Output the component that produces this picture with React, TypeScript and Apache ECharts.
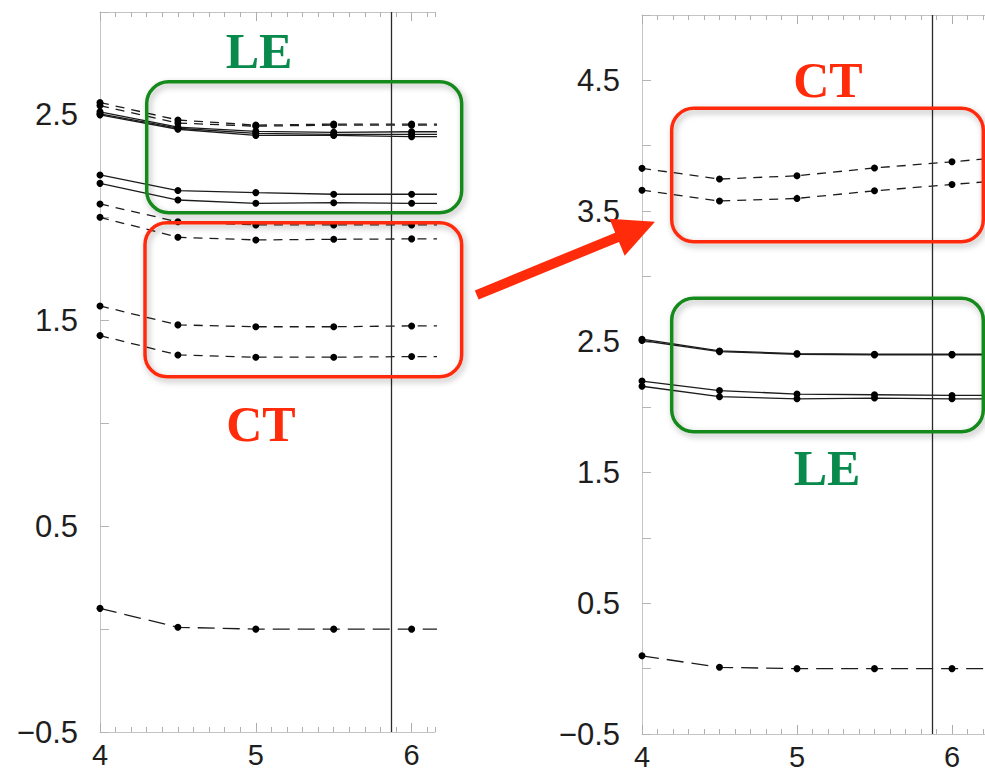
import React, { useEffect, useRef } from "react";
import * as echarts from "echarts";

// abscissa shared by every curve (last point sits past the visible range so lines run to the frame)
const xs = [4, 4.5, 5, 5.5, 6, 6.5];

// left panel
const leftLESolid = [
  [2.515, 2.44, 2.42, 2.415, 2.418, 2.418],
  [2.505, 2.435, 2.41, 2.405, 2.405, 2.405],
  [2.5, 2.43, 2.4, 2.4, 2.394, 2.394],
  [2.208, 2.132, 2.122, 2.114, 2.114, 2.114],
  [2.167, 2.086, 2.07, 2.073, 2.07, 2.07],
];
const leftLEDashed = [
  [2.56, 2.475, 2.45, 2.455, 2.455, 2.455],
  [2.545, 2.46, 2.445, 2.45, 2.45, 2.45],
];
const leftCT = [
  [2.067, 1.98, 1.965, 1.965, 1.965, 1.965],
  [2.002, 1.905, 1.892, 1.895, 1.897, 1.897],
  [1.571, 1.479, 1.47, 1.47, 1.474, 1.474],
  [1.427, 1.333, 1.322, 1.322, 1.325, 1.325],
];
const leftBase = [0.101, 0.009, 0.0, 0.0, 0.0, 0.0];

// right panel
const rightCT = [
  [3.827, 3.745, 3.77, 3.83, 3.877, 3.93],
  [3.66, 3.577, 3.597, 3.655, 3.704, 3.75],
];
const rightLE = [
  [2.52, 2.43, 2.41, 2.405, 2.405, 2.405],
  [2.51, 2.425, 2.405, 2.4, 2.4, 2.4],
  [2.2, 2.127, 2.1, 2.095, 2.09, 2.09],
  [2.16, 2.08, 2.064, 2.07, 2.064, 2.064],
];
const rightBase = [0.098, 0.01, 0.0, 0.0, 0.0, 0.0];

const cutoff = 5.865;
const xMin = 4;
const leftXMax = 6.15;
const rightXMax = 6.25;
const leftYRange = [-0.5, 3.0];
const rightYRange = [-0.5, 5.0];
const xLabels = ["4", "5", "6"];

const GREEN_BOX = "#14891a";
const GREEN_TEXT = "#078a4c";
const RED = "#ff2b0a";

const fmtY = (v: number) => {
  const frac = v - Math.floor(v);
  if (Math.abs(frac - 0.5) > 1e-6) return "";
  return v < 0 ? "\u2212" + Math.abs(v).toFixed(1) : v.toFixed(1);
};

export default function App() {
  const ref = useRef<HTMLDivElement>(null);

  useEffect(() => {
    if (!ref.current) return;
    const chart = echarts.init(ref.current, undefined, { renderer: "svg" });

    const grids = [
      { left: 100, top: 12, width: 335, height: 720 },
      { left: 642, top: 15, width: 155 * (rightXMax - xMin), height: 719 },
    ];
    const xMaxes = [leftXMax, rightXMax];

    const axisLineStyle = { onZero: false, lineStyle: { color: "#c4c4c4", width: 1 } };
    const labelFont = {
      fontFamily: "Liberation Sans, Arial, sans-serif",
      fontSize: 31,
      color: "#1e1e1e",
    };
    const xAxes: any[] = [];
    grids.forEach((_, g) => {
      // bottom axis with labels and unit ticks
      xAxes.push({
        type: "value",
        gridIndex: g,
        position: "bottom",
        min: xMin,
        max: xMaxes[g],
        interval: 1,
        axisLine: { show: true, ...axisLineStyle },
        axisTick: { show: true, inside: true, length: 9, customValues: [4, 5, 6], lineStyle: { color: "#aaa" } },
        axisLabel: {
          show: true,
          margin: 8,
          ...labelFont,
          fontSize: 29,
          lineHeight: 30,
          customValues: [4, 5, 6],
          formatter: (v: number) => (Number.isInteger(v) ? xLabels[v - 4] ?? String(v) : ""),
        },
        splitLine: { show: false },
      });
      // bottom fine ticks
      xAxes.push({
        type: "value",
        gridIndex: g,
        position: "bottom",
        min: xMin,
        max: xMaxes[g],
        interval: 0.1,
        axisLine: { show: false, onZero: false },
        axisTick: { show: true, inside: true, length: 5, lineStyle: { color: "#b0b0b0" } },
        axisLabel: { show: false },
        splitLine: { show: false },
      });
      // top frame with ticks
      xAxes.push({
        type: "value",
        gridIndex: g,
        position: "top",
        min: xMin,
        max: xMaxes[g],
        interval: 1,
        axisLine: { show: true, ...axisLineStyle },
        axisTick: { show: true, inside: true, length: 9, customValues: [4, 5, 6], lineStyle: { color: "#aaa" } },
        axisLabel: { show: false },
        splitLine: { show: false },
      });
      xAxes.push({
        type: "value",
        gridIndex: g,
        position: "top",
        min: xMin,
        max: xMaxes[g],
        interval: 0.1,
        axisLine: { show: false, onZero: false },
        axisTick: { show: true, inside: true, length: 5, lineStyle: { color: "#b0b0b0" } },
        axisLabel: { show: false },
        splitLine: { show: false },
      });
    });

    const yRanges = [leftYRange, rightYRange];
    const yAxes = grids.map((_, g) => ({
      type: "value",
      gridIndex: g,
      min: yRanges[g][0],
      max: yRanges[g][1],
      interval: 0.5,
      axisLine: { show: true, ...axisLineStyle },
      axisTick: { show: true, inside: true, length: 9, lineStyle: { color: "#b5b5b5" } },
      axisLabel: {
        show: true,
        margin: 22,
        ...labelFont,
        formatter: fmtY,
      },
      splitLine: { show: false },
    }));

    const makeLine = (
      name: string,
      vals: number[],
      g: number,
      dash: "solid" | number[],
      withCutoff = false
    ) => ({
      name,
      type: "line",
      xAxisIndex: g * 4,
      yAxisIndex: g,
      data: xs.map((x, i) => [x, vals[i]]),
      symbol: "circle",
      symbolSize: 7,
      itemStyle: { color: "#000" },
      lineStyle: { color: "#1c1c1c", width: 1.3, type: dash },
      clip: true,
      silent: true,
      z: 3,
      markLine: withCutoff
        ? {
            silent: true,
            symbol: ["none", "none"],
            label: { show: false },
            lineStyle: { color: "#2a2a2a", width: 1.3, type: "solid" },
            data: [{ xAxis: cutoff }],
          }
        : undefined,
    });

    const shortDash = [9, 7];
    const longDash = [17, 8];
    const series: any[] = [];
    series.push(makeLine("LE-base", leftBase, 0, longDash, true));
    leftLESolid.forEach((v, i) => series.push(makeLine("LE-" + i, v, 0, "solid")));
    leftLEDashed.forEach((v, i) => series.push(makeLine("LEd-" + i, v, 0, shortDash)));
    leftCT.forEach((v, i) => series.push(makeLine("CT-" + i, v, 0, shortDash)));
    series.push(makeLine("R-base", rightBase, 1, longDash, true));
    rightCT.forEach((v, i) => series.push(makeLine("R-CT-" + i, v, 1, shortDash)));
    rightLE.forEach((v, i) => series.push(makeLine("R-LE-" + i, v, 1, "solid")));

    // annotation boxes, captions and arrow
    const box = (x: number, y: number, w: number, h: number, color: string) => ({
      type: "rect",
      shape: { x, y, width: w, height: h, r: 22 },
      style: {
        fill: "transparent",
        stroke: color,
        lineWidth: 3.5,
        shadowBlur: 6,
        shadowOffsetX: 2,
        shadowOffsetY: 3,
        shadowColor: "rgba(0,0,0,0.3)",
      },
      z: 10,
      silent: true,
    });
    const caption = (text: string, x: number, y: number, color: string) => ({
      type: "text",
      x,
      y,
      style: {
        text,
        fill: color,
        font: "bold 50px 'Liberation Serif', 'Times New Roman', serif",
        align: "center",
        verticalAlign: "middle",
      },
      z: 10,
      silent: true,
    });

    const tail = [476.7, 295];
    const tip = [655, 221.7];
    const dx = tip[0] - tail[0];
    const dy = tip[1] - tail[1];
    const len = Math.hypot(dx, dy);
    const ux = dx / len;
    const uy = dy / len;
    const nx = -uy;
    const ny = ux;
    const headLen = 41;
    const headHalf = 20;
    const shaftHalf = 5;
    const bx = tip[0] - ux * headLen;
    const by = tip[1] - uy * headLen;
    const arrowPts = [
      [tail[0] + nx * shaftHalf, tail[1] + ny * shaftHalf],
      [bx + nx * shaftHalf, by + ny * shaftHalf],
      [bx + nx * headHalf, by + ny * headHalf],
      [tip[0], tip[1]],
      [bx - nx * headHalf, by - ny * headHalf],
      [bx - nx * shaftHalf, by - ny * shaftHalf],
      [tail[0] - nx * shaftHalf, tail[1] - ny * shaftHalf],
    ];

    const graphic = [
      box(146.7, 81.7, 315, 131, GREEN_BOX),
      box(145, 222.7, 316.7, 154, RED),
      box(671.7, 108.3, 311.6, 133.4, RED),
      box(671.7, 298.3, 311.6, 133.4, GREEN_BOX),
      caption("LE", 259, 51, GREEN_TEXT),
      caption("CT", 261, 424, RED),
      caption("CT", 828, 80, RED),
      caption("LE", 827, 468, GREEN_TEXT),
      {
        type: "polygon",
        shape: { points: arrowPts },
        style: { fill: RED },
        z: 10,
        silent: true,
      },
    ];

    chart.setOption({
      animation: false,
      backgroundColor: "#ffffff",
      grid: grids,
      xAxis: xAxes,
      yAxis: yAxes,
      series,
      graphic,
    });

    return () => chart.dispose();
  }, []);

  return (
    <div
      style={{
        position: "absolute",
        left: 0,
        top: 0,
        width: 985,
        height: 772,
        overflow: "hidden",
        background: "#fff",
      }}
    >
      <div ref={ref} style={{ width: 1000, height: 772 }} />
    </div>
  );
}
